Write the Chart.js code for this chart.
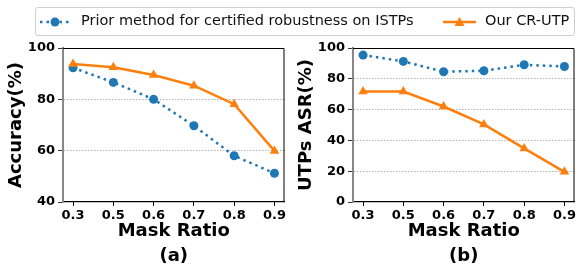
<!DOCTYPE html>
<html>
<head>
<meta charset="utf-8">
<script src="https://cdn.jsdelivr.net/npm/chart.js@4/dist/chart.umd.min.js"></script>
<style>
  html, body { margin: 0; padding: 0; background: #fff; overflow: hidden; }
  body { width: 576px; height: 265px; position: relative; font-family: "DejaVu Sans", sans-serif; }
  .panel { position: absolute; top: 0; width: 290px; height: 272px; }
  #legend {
    position: absolute; left: 35px; top: 7px; width: 538px; height: 27px;
    border: 1px solid #d0d0d0; border-radius: 3px; background: rgba(255,255,255,0.8);
    font-size: 14.5px; color: #111; z-index: 2;
  }
  #legend svg, #legend span { position: absolute; }
  #legend span { top: 4px; white-space: nowrap; }
</style>
</head>
<body>
<div id="legend">
  <svg style="left:3px;top:6px" width="32" height="16">
    <line x1="1" y1="8" x2="31" y2="8" stroke="#1f77b4" stroke-width="2.5" stroke-dasharray="2.5,4"/>
    <circle cx="16" cy="8" r="4.5" fill="#1f77b4"/>
  </svg>
  <span style="left:45px">Prior method for certified robustness on ISTPs</span>
  <svg style="left:407px;top:6px" width="33" height="16">
    <line x1="0" y1="8" x2="33" y2="8" stroke="#ff7f0e" stroke-width="2.5"/>
    <polygon points="16.5,3 21.5,12 11.5,12" fill="#ff7f0e"/>
  </svg>
  <span style="left:449px">Our CR-UTP</span>
</div>
<div class="panel" style="left:0"><canvas id="chartA" width="290" height="272"></canvas></div>
<div class="panel" style="left:290px"><canvas id="chartB" width="290" height="272"></canvas></div>
<script>
// Mask ratios on the x axis
var maskRatios = ['0.3', '0.5', '0.6', '0.7', '0.8', '0.9'];

// (a) accuracy
var priorAccuracy = [92.3, 86.6, 80.0, 69.7, 58.0, 51.2];
var oursAccuracy = [93.8, 92.5, 89.5, 85.3, 78.1, 59.9];

// (b) UTPs attack success rate
var priorASR = [95.4, 91.3, 84.6, 85.2, 89.1, 88.0];
var oursASR = [71.7, 71.7, 62.0, 50.4, 34.8, 19.6];

var blue = '#1f77b4';
var orange = '#ff7f0e';

function toPoints(values) {
    return values.map(function (v, i) { return { x: i, y: v }; });
}

// thin black line on top and right of the plot area
var framePlugin = {
    id: 'frame',
    beforeDatasetsDraw: function (chart) {
        var a = chart.chartArea, ctx = chart.ctx;
        ctx.save();
        ctx.strokeStyle = '#000';
        ctx.lineWidth = 1;
        ctx.beginPath();
        ctx.moveTo(a.left, a.top + 0.5);
        ctx.lineTo(a.right - 0.5, a.top + 0.5);
        ctx.lineTo(a.right - 0.5, a.bottom);
        ctx.stroke();
        ctx.restore();
    }
};

function makeChart(id, prior, ours, yTitle, yMin, yMax, panel) {
    var ctx = document.getElementById(id).getContext('2d');
    return new Chart(ctx, {
        type: 'line',
        data: {
            datasets: [
                {
                    label: 'Prior method for certified robustness on ISTPs',
                    data: toPoints(prior),
                    borderColor: blue,
                    backgroundColor: blue,
                    borderWidth: 2.5,
                    borderDash: [2.5, 4],
                    pointStyle: 'circle',
                    pointRadius: 4.5,
                    pointBorderWidth: 0,
                    order: 1
                },
                {
                    label: 'Our CR-UTP',
                    data: toPoints(ours),
                    borderColor: orange,
                    backgroundColor: orange,
                    borderWidth: 2.5,
                    pointStyle: 'triangle',
                    pointRadius: 5.5,
                    pointBorderWidth: 0,
                    order: 0
                }
            ]
        },
        options: {
            responsive: false,
            animation: false,
            layout: { padding: { top: 48, left: 0, right: 3, bottom: 0 } },
            plugins: { legend: { display: false }, tooltip: { enabled: false } },
            scales: {
                x: {
                    type: 'linear',
                    min: -0.25,
                    max: 5.25,
                    afterBuildTicks: function (scale) {
                        scale.ticks = maskRatios.map(function (_, i) { return { value: i }; });
                    },
                    afterFit: function (scale) { scale.height = 70; },
                    ticks: {
                        callback: function (v) { return maskRatios[v]; },
                        font: { family: 'DejaVu Sans', size: 13, weight: 'bold' },
                        color: '#000',
                        padding: 2,
                        maxRotation: 0
                    },
                    grid: { drawOnChartArea: false, drawTicks: true, tickLength: 4, tickColor: '#000' },
                    border: { display: true, color: '#000', width: 1.2 },
                    title: {
                        display: true,
                        text: ['Mask Ratio', panel],
                        font: { family: 'DejaVu Sans', size: 18, weight: 'bold', lineHeight: 1.39 },
                        color: '#000',
                        padding: { top: 0, bottom: 3.5 }
                    }
                },
                y: {
                    min: yMin,
                    max: yMax,
                    afterFit: function (scale) { scale.width = 63; },
                    ticks: {
                        stepSize: 20,
                        font: { family: 'DejaVu Sans', size: 13, weight: 'bold' },
                        color: '#000',
                        padding: 3
                    },
                    grid: {
                        color: function (c) {
                            return (c.tick && (c.tick.value === yMin || c.tick.value === yMax)) ? 'rgba(0,0,0,0)' : '#a0a0a0';
                        },
                        lineWidth: 0.8,
                        tickColor: '#000',
                        tickLength: 5
                    },
                    border: { display: true, color: '#888', width: 2, dash: [1.5, 1.5] },
                    title: {
                        display: true,
                        text: yTitle,
                        font: { family: 'DejaVu Sans', size: 18, weight: 'bold' },
                        color: '#000',
                        padding: { top: 6, bottom: 0 }
                    }
                }
            }
        },
        plugins: [framePlugin]
    });
}

makeChart('chartA', priorAccuracy, oursAccuracy, 'Accuracy(%)', 40, 100, '(a)');
makeChart('chartB', priorASR, oursASR, 'UTPs ASR(%)', 0, 100, '(b)');
</script>
</body>
</html>
